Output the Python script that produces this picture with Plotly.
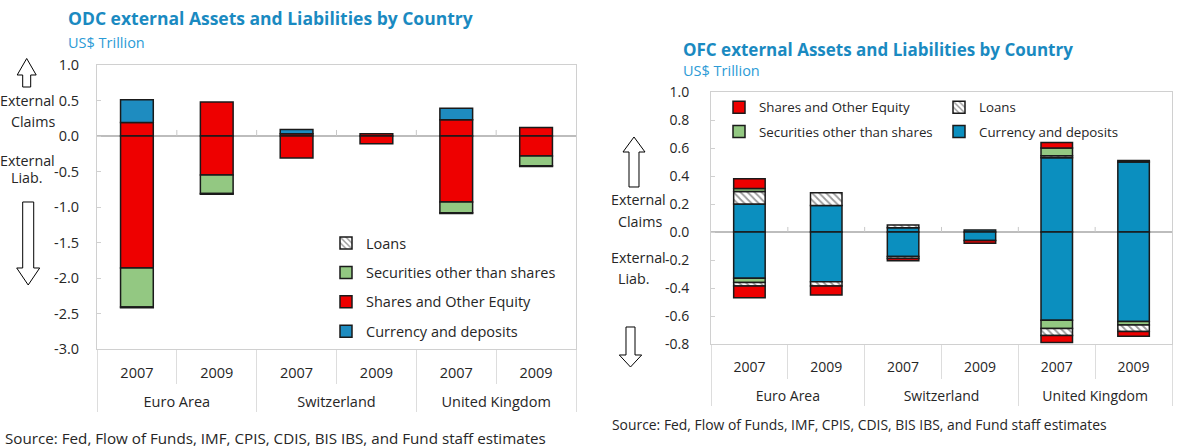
import plotly.graph_objects as go

W, H = 1196, 448

# ---------------- data ----------------
countries = ["Euro Area", "Euro Area", "Switzerland", "Switzerland", "United Kingdom", "United Kingdom"]
years = ["2007", "2009", "2007", "2009", "2007", "2009"]

# ODC (left chart), US$ trillion
odc_claims_shares = [0.19, 0.48, 0.03, 0.03, 0.23, 0.12]
odc_claims_currency = [0.32, 0.0, 0.06, 0.0, 0.16, 0.0]
odc_liab_shares = [-1.86, -0.55, -0.31, -0.11, -0.93, -0.28]
odc_liab_securities = [-0.55, -0.26, 0.0, 0.0, -0.15, -0.14]
odc_liab_loans = [-0.01, -0.01, 0.0, 0.0, -0.01, -0.01]
odc_liab_currency = [0.0, 0.0, 0.0, 0.0, 0.0, 0.0]

# OFC (right chart), US$ trillion
ofc_claims_currency = [0.20, 0.19, 0.03, 0.015, 0.53, 0.50]
ofc_claims_loans = [0.09, 0.09, 0.02, 0.0, 0.015, 0.01]
ofc_claims_securities = [0.02, 0.0, 0.0, 0.0, 0.055, 0.0]
ofc_claims_shares = [0.07, 0.0, 0.0, 0.0, 0.04, 0.0]
ofc_liab_currency = [-0.33, -0.355, -0.175, -0.06, -0.63, -0.64]
ofc_liab_securities = [-0.03, 0.0, 0.0, 0.0, -0.06, -0.025]
ofc_liab_loans = [-0.025, -0.03, -0.015, 0.0, -0.05, -0.045]
ofc_liab_shares = [-0.085, -0.065, -0.015, -0.02, -0.05, -0.035]

odc_tickvals = [1.0, 0.5, 0.0, -0.5, -1.0, -1.5, -2.0, -2.5, -3.0]
odc_ticktext = ["1.0", "0.5", "0.0", "-0.5", "-1.0", "-1.5", "-2.0", "-2.5", "-3.0"]
ofc_tickvals = [1.0, 0.8, 0.6, 0.4, 0.2, 0.0, -0.2, -0.4, -0.6, -0.8]
ofc_ticktext = ["1.0", "0.8", "0.6", "0.4", "0.2", "0.0", "-0.2", "-0.4", "-0.6", "-0.8"]

# ---------------- styles ----------------
FONT = "Open Sans, Noto Sans, sans-serif"
RED = "#EE0000"
GREEN = "#93C882"
BLUE_L = "#1E8CC0"
BLUE_R = "#0B8FBF"
EDGE = "#1A1A1A"
AXC = "#D0D0D0"
TXT = "#262626"


def px(x):
    return x / W


def py(y):
    return 1 - y / H


def nz(vals):
    return [v if v != 0 else None for v in vals]


country_labels = ["<br>" + c for c in countries]
xcat = [country_labels, years]
fig = go.Figure()


def add_bar(vals, name, color, xa, ya, legend=None, show=False, rank=None, group=None, hatch=False):
    marker = dict(color=color, line=dict(color=EDGE, width=1.5))
    if hatch:
        marker = dict(color="white", line=dict(color=EDGE, width=1.5),
                      pattern=dict(shape="\\", fgcolor="#333333", bgcolor="white", size=5, solidity=0.35))
    kw = dict(x=xcat, y=nz(vals), name=name, marker=marker, xaxis=xa, yaxis=ya,
              showlegend=show, legendgroup=group, hoverinfo="y+name")
    if legend:
        kw["legend"] = legend
    if rank is not None:
        kw["legendrank"] = rank
    fig.add_trace(go.Bar(**kw))


# left chart traces
add_bar(odc_claims_shares, "Shares and Other Equity", RED, "x", "y", "legend", False, 3, "l_sh")
add_bar(odc_claims_currency, "Currency and deposits", BLUE_L, "x", "y", "legend", True, 4, "l_cu")
add_bar(odc_liab_shares, "Shares and Other Equity", RED, "x", "y", "legend", True, 3, "l_sh")
add_bar(odc_liab_securities, "Securities other than shares", GREEN, "x", "y", "legend", True, 2, "l_se")
add_bar(odc_liab_loans, "Loans", "white", "x", "y", "legend", True, 1, "l_lo", hatch=True)
add_bar(odc_liab_currency, "Currency and deposits", BLUE_L, "x", "y", "legend", False, 4, "l_cu")

# right chart traces
add_bar(ofc_claims_currency, "Currency and deposits", BLUE_R, "x2", "y2", "legend3", True, 2, "r_cu")
add_bar(ofc_claims_loans, "Loans", "white", "x2", "y2", "legend3", True, 1, "r_lo", hatch=True)
add_bar(ofc_claims_securities, "Securities other than shares", GREEN, "x2", "y2", "legend2", True, 2, "r_se")
add_bar(ofc_claims_shares, "Shares and Other Equity", RED, "x2", "y2", "legend2", True, 1, "r_sh")
add_bar(ofc_liab_currency, "Currency and deposits", BLUE_R, "x2", "y2", "legend3", False, 2, "r_cu")
add_bar(ofc_liab_securities, "Securities other than shares", GREEN, "x2", "y2", "legend2", False, 2, "r_se")
add_bar(ofc_liab_loans, "Loans", "white", "x2", "y2", "legend3", False, 1, "r_lo", hatch=True)
add_bar(ofc_liab_shares, "Shares and Other Equity", RED, "x2", "y2", "legend2", False, 1, "r_sh")

# plot-area geometry (page pixels)
L_X0, L_X1, L_Y0, L_Y1 = 97, 576, 65, 349
R_X0, R_X1, R_Y0, R_Y1 = 711, 1172, 92, 344


def xaxis_style(size, standoff):
    return dict(type="multicategory", showline=True, linecolor=AXC, linewidth=1, mirror=True,
                ticks="outside", tickson="boundaries", ticklen=34, tickcolor="#DDDDDD",
                showdividers=True, dividercolor="#DDDDDD", dividerwidth=1, ticklabelstandoff=standoff,
                tickfont=dict(family=FONT, size=size, color=TXT), automargin=False,
                showgrid=False, fixedrange=True)


def yaxis_style(size):
    return dict(showline=True, linecolor=AXC, linewidth=1, mirror=True, ticks="inside", ticklen=4,
                tickcolor=AXC, showgrid=False, zeroline=True, zerolinecolor="#BDBDBD", zerolinewidth=1.5,
                tickfont=dict(family=FONT, size=size, color=TXT), automargin=False,
                layer="above traces", fixedrange=True)


fig.update_layout(
    width=W, height=H, margin=dict(l=0, r=0, t=0, b=0),
    paper_bgcolor="white", plot_bgcolor="white",
    barmode="relative", bargap=0.59,
    font=dict(family=FONT, size=14, color=TXT),
    xaxis=dict(domain=[px(L_X0), px(L_X1)], anchor="y", **xaxis_style(14.5, 11)),
    yaxis=dict(domain=[py(L_Y1), py(L_Y0)], anchor="x", range=[-3, 1],
               tickvals=odc_tickvals, ticktext=odc_ticktext, ticklabelstandoff=14, **yaxis_style(14.5)),
    xaxis2=dict(domain=[px(R_X0), px(R_X1)], anchor="y2", **xaxis_style(14, 10)),
    yaxis2=dict(domain=[py(R_Y1), py(R_Y0)], anchor="x2", range=[-0.8, 1.0],
                tickvals=ofc_tickvals, ticktext=ofc_ticktext, ticklabelstandoff=18, **yaxis_style(14)),
    legend=dict(x=px(326), y=py(227), xanchor="left", yanchor="top", traceorder="grouped",
                tracegroupgap=7.6, bgcolor="rgba(0,0,0,0)", font=dict(family=FONT, size=14.5, color=TXT),
                itemclick=False, itemdoubleclick=False),
    legend2=dict(x=px(719), y=py(92), xanchor="left", yanchor="top", traceorder="grouped",
                 tracegroupgap=4, bgcolor="rgba(0,0,0,0)", font=dict(family=FONT, size=13.3, color=TXT),
                 itemclick=False, itemdoubleclick=False),
    legend3=dict(x=px(939), y=py(92), xanchor="left", yanchor="top", traceorder="grouped",
                 tracegroupgap=4, bgcolor="rgba(0,0,0,0)", font=dict(family=FONT, size=13.3, color=TXT),
                 itemclick=False, itemdoubleclick=False),
)

# ---------------- annotations ----------------
ann = []


def text(x, y, s, size=14, color=TXT, bold=False, anchor="center"):
    ann.append(dict(x=px(x), y=py(y), xref="paper", yref="paper", text=("<b>%s</b>" % s) if bold else s,
                    showarrow=False, xanchor=anchor, yanchor="middle",
                    font=dict(family=FONT, size=size, color=color)))


TITLE_C = "#1A8AC1"
SUB_C = "#2C9BD6"
text(66, 18, "ODC external Assets and Liabilities by Country", 17.5, TITLE_C, True, "left")
text(66, 42, "US$ Trillion", 14.5, SUB_C, False, "left")
text(681, 49, "OFC external Assets and Liabilities by Country", 17, TITLE_C, True, "left")
text(681, 70, "US$ Trillion", 14.5, SUB_C, False, "left")

text(28, 100, "External", 14.3)
text(33, 121, "Claims", 14.3)
text(28, 160, "External", 14.3)
text(27, 177, "Liab.", 14.3)
text(638, 199, "External", 14.3)
text(640, 221, "Claims", 14.3)
text(638, 257, "External", 14.3)
text(634, 278, "Liab.", 14.3)

text(3, 438, "Source: Fed, Flow of Funds, IMF, CPIS, CDIS, BIS IBS, and Fund staff estimates", 15.2, TXT, False, "left")
text(610, 424, "Source: Fed, Flow of Funds, IMF, CPIS, CDIS, BIS IBS, and Fund staff estimates", 13.9, TXT, False, "left")

fig.update_layout(annotations=ann)

# ---------------- shapes: arrows and zero-line ticks ----------------
shapes = []


def poly(points):
    d = "M " + " L ".join("%.5f,%.5f" % (px(x), py(y)) for x, y in points) + " Z"
    shapes.append(dict(type="path", path=d, xref="paper", yref="paper",
                       line=dict(color="black", width=1), fillcolor="white"))


def up_arrow(cx, tip, base, bottom, hw, sw):
    poly([(cx, tip), (cx + hw, base), (cx + sw, base), (cx + sw, bottom),
          (cx - sw, bottom), (cx - sw, base), (cx - hw, base)])


def down_arrow(cx, top, base, tip, hw, sw):
    poly([(cx - sw, top), (cx + sw, top), (cx + sw, base), (cx + hw, base),
          (cx, tip), (cx - hw, base), (cx - sw, base)])


up_arrow(26.7, 58.5, 75, 87, 9.5, 4)
down_arrow(28.2, 202, 268, 285, 11.5, 5.5)
up_arrow(634, 137, 152, 187, 11, 5)
down_arrow(630.5, 327, 355, 367, 11.2, 4.5)

for k in range(1, 6):
    xl = L_X0 + k * (L_X1 - L_X0) / 6
    shapes.append(dict(type="line", xref="paper", yref="y", x0=px(xl), x1=px(xl), y0=0, y1=0.085,
                       line=dict(color="#C8C8C8", width=1)))
    xr = R_X0 + k * (R_X1 - R_X0) / 6
    shapes.append(dict(type="line", xref="paper", yref="y2", x0=px(xr), x1=px(xr), y0=0, y1=0.036,
                       line=dict(color="#C8C8C8", width=1)))

fig.update_layout(shapes=shapes)

# remove the browser's default 8px page margin so the figure sits at the window's top-left corner
fig.write_html("out.html", config={"displayModeBar": False},
               post_script="document.body.style.margin='0px';")
